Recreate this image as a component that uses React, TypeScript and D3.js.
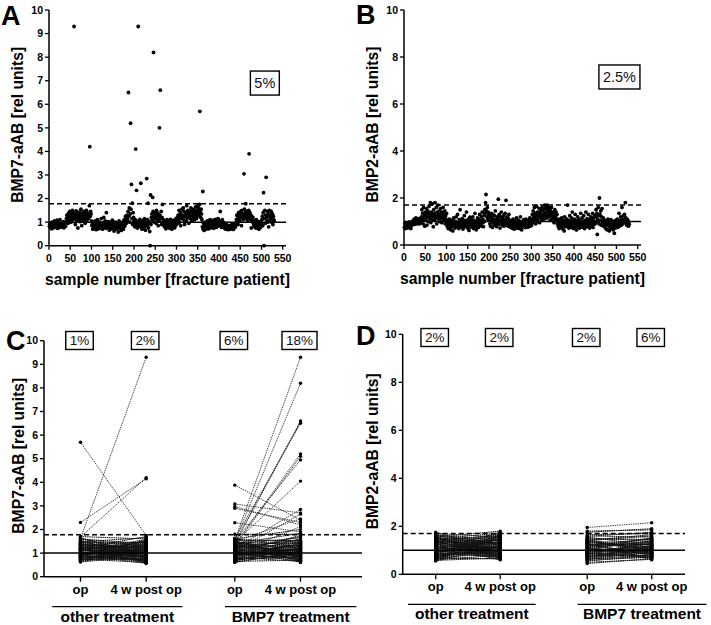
import React from "react";
import * as d3 from "d3";

const FONT = "'Liberation Sans', Arial, Helvetica, sans-serif";

// ---------- Panel A: BMP7-aAB per sample (sample number = index + 1) ----------
const bmp7Samples: number[] = [
  .82,.9,.78,.95,.85,.72,1.0,.88,.8,.93, .76,.87,1.05,.83,.9,.79,.95,.86,1.08,.74,
  .88,.81,.97,.77,.92,1.1,.84,.79,.9,.86, .95,.8,.88,1.02,.76,.91,.85,.98,.83,1.0,
  1.15,1.3,1.05,1.25,.95,1.38,1.12,1.2,1.45,1.08, 1.28,1.0,1.35,1.18,1.5,1.1,1.22,1.4,9.3,1.15,
  1.32,.9,1.25,1.48,1.05,1.18,1.36,.75,1.22,1.3, 1.12,1.42,1.02,1.28,1.55,1.15,.85,1.38,1.2,1.08,
  1.3,1.45,1.1,1.25,.95,1.35,1.18,1.5,1.05,1.28, 1.22,1.38,1.15,1.3,1.7,4.2,1.25,1.45,1.35,1.05,
  .85,.92,.7,1.0,.8,.95,.75,.88,1.05,.82, .68,.9,.78,1.1,.85,.95,.72,.87,1.0,.8,
  .93,.76,1.15,.84,.9,.7,.98,.83,1.2,.88, .78,1.05,.9,.74,1.4,.86,.95,.8,1.02,.77,
  .9,.66,.85,1.0,.8,.93,.72,.88,1.08,.82, .75,.95,.62,.9,.84,1.0,.78,.88,.7,.96,
  .83,.92,.58,.86,1.05,.8,.72,.94,.88,.65, .9,.78,1.0,.85,.7,.95,1.1,.82,.9,1.25,
  1.05,.95,1.2,1.3,1.1,1.45,6.5,1.25,1.6,1.0, 1.35,5.2,1.55,2.6,1.15,1.8,.9,1.4,1.2,1.05,
  .95,.8,1.1,4.1,.88,2.35,1.0,.75,.92,9.3, 1.05,.85,.97,1.12,.8,2.65,.9,1.0,.7,.95,
  .88,1.08,.78,.93,1.15,.83,.66,1.0,.9,2.85, .85,1.1,1.8,.75,.95,1.02,.6,0.0,2.15,.9,
  1.2,1.35,1.1,2.05,1.45,8.2,1.25,1.0,1.4,1.15, 1.3,.95,1.5,1.2,1.1,1.38,.85,1.25,1.05,5.0,
  1.3,6.6,1.15,1.45,.9,1.2,1.75,1.0,1.1,.88, .95,.8,1.05,.9,.72,1.0,.85,1.1,.78,.93,
  1.02,.87,.75,.98,.9,1.12,.8,.95,.7,1.05, .88,.97,.82,1.08,.9,.76,1.0,.86,1.15,.92,
  1.05,1.2,.95,1.3,1.1,1.5,1.0,1.25,1.4,.85, 1.35,1.15,1.55,1.2,1.28,1.6,1.1,1.45,.9,1.3,
  1.25,1.4,1.05,1.7,1.18,1.35,1.5,1.22,.95,1.4, 1.3,1.15,1.45,1.6,1.25,1.05,1.38,1.5,1.2,1.32,
  1.55,1.1,1.42,1.28,1.65,1.35,1.15,1.5,1.25,1.7, 1.4,1.6,1.3,1.75,5.7,1.45,1.2,1.55,1.35,1.1,
  .8,2.3,.7,.95,.65,.88,.75,1.0,.82,.7, .93,.85,1.05,.78,.9,.72,.98,.86,1.1,.8,
  .92,.76,1.0,.88,.82,1.08,.9,.74,.95,1.02, .85,1.12,.9,.78,1.0,.93,.82,1.15,.88,.96,
  1.05,.9,1.45,.85,1.0,.78,.95,1.1,.86,.92, .8,.98,.75,.88,.72,.83,.7,.9,.78,.74,
  .8,.68,.76,.85,.72,.79,.7,.82,.75,.9, .73,.8,.77,.69,.84,.76,.92,.78,.85,.95,
  1.1,1.3,1.0,1.25,.9,1.4,1.15,1.35,1.05,1.2, 1.45,1.3,.85,1.5,1.2,1.35,1.1,1.28,3.05,1.55,
  1.22,1.4,1.78,1.3,1.15,1.45,1.05,1.35,1.25,1.5, 3.9,1.2,1.4,1.1,1.3,.75,1.25,1.15,1.05,1.2,
  .95,.88,1.05,.8,1.0,.92,.75,1.1,.85,.9, .98,.82,1.02,.7,.93,.86,1.0,.78,.9,.95,
  1.1,1.25,.85,1.4,2.25,0.0,1.15,1.5,.95,1.3, 2.9,1.2,1.05,1.45,1.0,1.35,.8,1.25,1.5,1.1,
  1.3,1.15,1.45,1.0,1.2,1.35,.9,1.25,1.1,1.05,
];

// ---------- Panel B: BMP2-aAB per sample ----------
const bmp2Samples: number[] = [
  .75,.9,.7,.85,.95,.78,.88,.72,.92,.8, .86,.76,.98,.83,.9,.7,.95,.82,.88,1.0,
  .95,1.05,.9,1.1,.88,1.0,.93,1.15,.97,.9, 1.02,.92,1.08,.96,1.12,.9,1.0,1.05,.94,1.1,
  1.2,1.5,1.05,1.35,.9,1.6,1.15,1.25,.8,1.4, 1.1,1.3,1.55,.85,1.2,1.45,1.0,1.35,1.65,1.15,
  1.25,1.8,.95,1.4,1.1,1.75,1.3,1.2,.78,1.5, 1.35,1.05,1.8,1.25,1.15,1.6,.9,1.4,1.2,1.7,
  1.3,1.1,1.45,1.0,1.25,1.55,1.15,1.35,.95,1.4, 1.2,1.6,1.05,1.3,1.15,1.45,.9,1.25,1.1,1.35,
  .9,.8,1.0,.7,.95,.85,1.1,.75,.92,.65, .88,1.05,.78,.95,.6,.9,1.15,.82,.98,.72,
  1.0,.86,1.2,.78,.93,1.3,.84,.96,.7,1.08, .9,1.5,.8,1.02,.88,.75,1.12,.94,.68,1.0,
  .85,1.25,.92,.78,1.05,.88,1.4,.8,.97,.72, .9,1.1,.62,.95,1.18,.84,1.0,.76,1.08,.9,
  .82,1.2,.95,.7,1.05,.88,1.35,.78,.98,.65, 1.0,.86,1.15,.92,.75,1.1,.96,1.3,.84,1.05,
  .9,1.2,.8,1.4,.95,1.08,.78,1.25,1.0,1.5, 1.35,1.8,2.15,1.45,1.2,1.6,1.1,1.4,1.25,1.3,
  1.05,.9,1.2,.8,1.35,1.0,1.15,.75,1.3,.95, 1.1,.85,1.25,1.0,1.45,.9,1.08,.78,1.2,.98,
  1.15,1.95,.88,1.3,1.05,.72,1.2,.95,1.4,1.0, .85,1.12,.98,1.25,.8,1.05,.92,1.35,1.1,1.9,
  .9,1.2,1.0,.82,1.15,.95,1.3,.78,1.05,.88, .9,.75,1.05,.85,.98,.7,1.1,.82,.95,.68,
  .88,1.0,.78,.92,1.15,.84,.72,.96,.8,1.05, .86,.7,.95,1.2,.8,.9,.65,1.0,.85,.93,
  .78,1.08,.9,.82,.97,.74,1.1,.88,.8,1.0, .92,.76,1.05,.86,.95,1.15,.8,.9,1.02,.84,
  1.1,1.3,.95,1.45,1.2,1.05,1.6,1.15,1.35,.9, 1.25,1.65,1.1,1.4,1.0,1.3,1.2,1.55,.95,1.35,
  1.15,1.45,1.25,1.05,1.6,1.3,1.2,1.5,1.1,1.4, 1.7,1.25,1.55,1.35,1.65,1.15,1.7,1.45,1.3,1.6,
  1.2,1.5,1.35,1.05,1.45,1.25,1.6,1.1,1.4,1.3, 1.15,1.35,.95,1.25,1.5,1.05,1.2,1.4,1.1,1.3,
  .9,1.05,.8,.95,.7,1.1,.85,1.0,.75,.92, 1.15,.82,.98,.68,1.05,.88,.6,1.2,.9,.78,
  1.0,.85,1.1,.93,1.7,.8,1.05,.72,.96,1.25, .88,1.0,.75,1.15,.92,1.4,.83,1.02,.7,.95,
  1.1,.86,1.3,.78,.98,.64,1.05,.9,1.2,.82, .95,1.08,.72,1.0,.88,1.35,.8,.93,1.15,.76,
  1.0,.84,1.25,.9,.7,1.05,.86,1.4,.95,.8, 1.12,.78,.98,1.3,.85,1.0,.72,1.1,.9,1.2,
  .82,1.05,.95,1.35,.75,1.15,.88,1.0,1.25,.9, 1.2,1.5,1.0,1.35,.45,1.1,1.6,1.25,.9,2.0,
  1.3,1.05,1.45,.85,1.2,1.55,1.0,.95,1.15,.8, .92,.78,1.05,.85,.7,1.0,.88,.65,.95,1.1,
  .82,.9,.6,1.0,.75,.88,1.08,.7,.93,.8, .85,.65,1.0,.78,.5,.9,.72,1.05,.83,.95,
  .88,1.1,.75,1.0,.92,1.35,.8,1.05,.95,1.2, 1.0,.85,1.6,1.1,.9,1.25,1.05,.95,1.3,1.0,
  1.8,1.15,1.0,.85,1.1,.9,1.05,.8,.95,.88,
];

const sampleTicks = [0, 50, 100, 150, 200, 250, 300, 350, 400, 450, 500, 550];
const bmp7Ticks = [0, 1, 2, 3, 4, 5, 6, 7, 8, 9, 10];
const bmp2Ticks = [0, 2, 4, 6, 8, 10];
const bmp7Cutoff = 1.78;
const bmp2Cutoff = 1.7;
const groups = ["other treatment", "BMP7 treatment"];
const timepoints = ["op", "4 w post op"];

// ---------- Panel C: BMP7-aAB, paired op / 4 w post op ----------
const cOtherOp: number[] = [
  .62,.7,.75,.8,.85,.9,.95,1.0,1.05,1.1,1.15,1.2,1.25,1.3,1.35,1.4,1.45,1.5,1.55,1.6,1.65,1.7,
  .65,.72,.78,.83,.88,.92,.97,1.02,1.07,1.12,1.17,1.22,1.27,1.32,1.38,1.42,1.48,1.52,1.58,1.62,
  .68,.74,.82,.87,.93,.99,1.04,1.09,1.14,1.19,1.24,1.29,1.34,
  .76,.86,.96,1.06,1.16,1.26,1.36,1.46, .64,.8,.9,1.0,1.1,1.2,
  .71,.79,.91,1.01,1.11,1.21,1.31,1.41,1.51,.84,.94,1.13,1.33,
  5.7,2.3,1.62,1.68,
];
const cOtherPost: number[] = [
  .9,1.2,.6,1.05,.75,1.35,.85,1.5,.7,1.1, .95,1.3,.58,1.0,1.25,.8,1.45,1.15,.65,1.4,
  .88,1.6,1.02,.72,1.28,.92,1.55,.68,1.18,.82, 1.38,1.08,.62,1.22,.98,1.48,.78,1.12,1.65,.86,
  1.32,.96,1.42,.74,1.06,1.26,.56,1.16,.9,1.52, .8,1.36,1.0,.7,1.2,1.1,.84,1.3,.66,1.44,
  .94,1.24,1.04,1.14,.76,1.34,.6,1.58,1.7,
  1.0,.73,1.19,.87,1.4,.63,1.09,.97,1.29,.79,1.5,.91,1.21,
  1.75,4.15,9.3,4.2,
];
const cBmpOp: number[] = [
  .6,.65,.7,.72,.75,.78,.8,.82,.85,.88, .9,.92,.95,.98,1.0,1.02,1.05,1.08,1.1,1.12,
  1.15,1.18,1.2,1.22,1.25,1.28,1.3,1.32,1.35,1.38, 1.4,1.42,1.45,1.48,1.5,1.52,1.55,1.6,1.63,
  .68,.74,.84,.94,1.04,1.14,1.24,1.34,1.44, .62,.9,1.0,1.1,1.2,.8,1.3,
  .66,.77,.87,.97,1.07,1.17,1.27,1.37,1.47,1.57,
  1.55,1.5,1.45,1.4,1.6,1.35,1.3,1.5,1.45,3.88,3.08,2.97,2.9,2.29,1.8,1.2,1.1,1.0,1.6,1.4,1.5,
];
const cBmpPost: number[] = [
  1.1,.7,1.3,.85,1.5,.95,1.2,.65,1.4,1.0, .8,1.6,1.15,.75,1.35,.9,1.05,1.7,.62,1.25,
  .88,1.45,1.0,.72,1.55,1.1,.82,1.3,.98,1.65, .68,1.2,1.4,.92,1.08,.78,1.5,1.28,.6,1.18,
  .86,1.36,.96,1.75,.74,1.12,1.46,.84,1.02,1.22, .66,1.32,1.58,.9,1.06,
  1.24,.8,1.42,.97,1.15,.7,1.33,1.04,.88,1.52,
  9.3,8.2,6.6,6.55,6.5,5.2,5.1,4.95,4.05,2.4,2.7,2.2,2.3,1.9,1.8,2.85,2.65,2.12,2.0,1.84,2.45,
];

// ---------- Panel D: BMP2-aAB, paired op / 4 w post op ----------
const dOtherOp: number[] = [
  .55,.6,.65,.7,.75,.8,.85,.9,.95,1.0,1.05,1.1,1.15,1.2,1.25,1.3,1.35,1.4,1.45,1.5,1.55,1.6,1.65,1.7,1.75,
  .58,.63,.68,.73,.78,.83,.88,.93,.98,1.03,1.08,1.13,1.18,1.23,1.28,1.33,1.38,1.43,1.48,1.53,1.58,1.63,
  .62,.72,.82,.92,1.02,1.12,1.22,1.32,1.42,1.52, .67,.87,1.07,1.27,1.47, .77,.97,1.17,1.37,1.57, .6,1.0,1.4,
  .66,.76,.86,.96,1.06,1.16,1.26,1.36,1.46,1.56,1.66,
];
const dOtherPost: number[] = [
  1.2,.8,1.5,.65,1.0,1.35,.9,1.7,1.1,.7, 1.45,.95,1.25,.6,1.6,1.05,.85,1.4,1.15,.75,
  1.8,1.3,.92,1.55,1.0,.68,1.22,1.65,.82,1.12, 1.48,.72,1.38,.98,1.75,.88,1.18,.62,1.52,1.08,
  1.32,.78,1.62,.96,1.28,.66,1.42,1.02,1.58,.86, 1.16,.74,1.36,1.06,1.68,.94,1.26,.64,1.46,1.14,
  .84,1.72,1.04,1.34,.76,1.24,.9,1.56,1.1,.7,
  1.3,.99,1.61,.81,1.19,1.44,.71,1.09,1.53,.89,1.27,
];
const dBmpOp: number[] = [
  .45,.55,.6,.65,.7,.75,.8,.85,.9,.95, 1.0,1.05,1.1,1.15,1.2,1.25,1.3,1.35,1.4,1.45,1.5,1.55,1.6,1.75,1.95,
  .58,.68,.78,.88,.98,1.08,1.18,1.28,1.38,1.48,1.58, .62,.72,.82,.92,1.02,1.12,1.22,1.32,1.42,
  .5,.74,.86,.96,1.06,1.16,1.26,1.36,1.8,1.65,
  .64,.76,.84,.94,1.04,1.14,1.24,1.34,1.44,
];
const dBmpPost: number[] = [
  .65,.8,1.0,.7,1.2,.9,1.1,.75,1.3,.95, 1.05,1.4,.85,1.25,1.5,1.15,.6,1.35,1.6,1.0,
  1.45,1.2,1.55,1.9,2.15, .72,.88,1.02,.68,1.18,.92,1.32,.78,1.08,1.42,
  1.75,.82,.98,1.28,.74,1.12,1.38,.86,1.22,1.65, .62,1.06,.94,1.16,.84,1.48,1.26,1.0,1.85,1.7,
  1.12,.77,1.36,.93,1.52,.69,1.24,1.04,.87,
];

const cPercents = ["1%", "2%", "6%", "18%"];
const dPercents = ["2%", "2%", "2%", "6%"];

function textW(s: string, fs: number) {
  let w = 0;
  for (const ch of s) w += ch === "%" ? 0.889 : ch === "." ? 0.278 : 0.556;
  return w * fs;
}

function PctBox({ cx, cy, label, fs, h }: { cx: number; cy: number; label: string; fs: number; h: number }) {
  const w = textW(label, fs) + 8;
  return (
    <g>
      <rect x={cx - w / 2} y={cy - h / 2} width={w} height={h} fill="#fff" stroke="#000" strokeWidth={1.4} />
      <text x={cx} y={cy} dy="0.36em" textAnchor="middle" fontSize={fs} fontFamily={FONT} fill="#111">{label}</text>
    </g>
  );
}

type ScatterProps = {
  values: number[]; x0: number; x550: number; xEnd: number; y0: number; y10: number;
  yTicks: number[]; cutoff: number; letter: string; letterX: number; letterY: number;
  yTitle: string; pct: string; pctSample: number; pctValue: number;
};

function ScatterPanel(p: ScatterProps) {
  const x = d3.scaleLinear().domain([0, 550]).range([p.x0, p.x550]);
  const y = d3.scaleLinear().domain([0, 10]).range([p.y0, p.y10]);
  const xMid = (p.x0 + p.xEnd) / 2;
  const yMid = (p.y0 + p.y10) / 2 - 3;
  return (
    <g>
      <text x={p.letterX} y={p.letterY} fontSize={27} fontWeight="bold" fontFamily={FONT}>{p.letter}</text>
      <line x1={p.x0} x2={p.xEnd} y1={y(1)} y2={y(1)} stroke="#000" strokeWidth={1.5} />
      <line x1={p.x0} x2={p.xEnd} y1={y(p.cutoff)} y2={y(p.cutoff)} stroke="#000" strokeWidth={1.5} strokeDasharray="5,3" />
      {p.values.map((v, i) => (
        <circle key={i} cx={x(i + 1)} cy={y(v)} r={1.9} fill="#000" />
      ))}
      <line x1={p.x0} x2={p.x0} y1={p.y0} y2={p.y10} stroke="#000" strokeWidth={1.5} />
      {p.yTicks.map((t) => (
        <g key={t}>
          <line x1={p.x0 - 4} x2={p.x0} y1={y(t)} y2={y(t)} stroke="#000" strokeWidth={1.3} />
          <text x={p.x0 - 6} y={y(t)} dy="0.36em" textAnchor="end" fontSize={10.5} fontWeight="bold" fontFamily={FONT}>{t}</text>
        </g>
      ))}
      <line x1={p.x0} x2={p.xEnd} y1={p.y0} y2={p.y0} stroke="#000" strokeWidth={1.5} />
      {sampleTicks.map((t) => (
        <g key={t}>
          <line x1={x(t)} x2={x(t)} y1={p.y0} y2={p.y0 + 4} stroke="#000" strokeWidth={1.3} />
          <text x={x(t)} y={p.y0 + 16} textAnchor="middle" fontSize={10.5} fontWeight="bold" fontFamily={FONT}>{t}</text>
        </g>
      ))}
      <text x={xMid} y={p.y0 + 39} textAnchor="middle" fontSize={15.7} fontWeight="bold" fontFamily={FONT}>
        sample number [fracture patient]
      </text>
      <text transform={`translate(${p.x0 - 26},${yMid}) rotate(-90)`} textAnchor="middle" fontSize={15.7} fontWeight="bold" fontFamily={FONT}>
        {p.yTitle}
      </text>
      <PctBox cx={x(p.pctSample)} cy={y(p.pctValue)} label={p.pct} fs={14.5} h={24} />
    </g>
  );
}

type PairedProps = {
  x0: number; xEnd: number; y0: number; y10: number; opX: number; postX: number;
  yTicks: number[]; cutoff: number; letter: string; letterX: number; letterY: number;
  yTitle: string; titleX: number; percents: string[]; pctY: number;
  data: [number[], number[]][];
};

function PairedPanel(p: PairedProps) {
  const y = d3.scaleLinear().domain([0, 10]).range([p.y0, p.y10]);
  const slot = d3.scaleLinear().domain([0, 3.35]).range([p.opX, p.postX]);
  const groupSlots = [[0, 1], [2.35, 3.35]];
  const groupSpan = [[-0.43, 1.55], [2.2, 4.2]];
  const lineY = p.y0 + 30;
  const yMid = (p.y0 + p.y10) / 2 - 3;
  return (
    <g>
      <text x={p.letterX} y={p.letterY} fontSize={27} fontWeight="bold" fontFamily={FONT}>{p.letter}</text>
      {p.data.map(([ops, posts], gi) => {
        const [sa, sb] = groupSlots[gi];
        const n = Math.min(ops.length, posts.length);
        const items = [];
        for (let i = 0; i < n; i++) {
          const big = ops[i] > 2 || posts[i] > 2;
          items.push(
            <line key={"l" + i} x1={slot(sa)} y1={y(ops[i])} x2={slot(sb)} y2={y(posts[i])}
              stroke="#111" strokeWidth={big ? 0.8 : 1.0} strokeDasharray={big ? "1.4,0.9" : "1.6,0.6"} />
          );
        }
        for (let i = 0; i < n; i++) {
          items.push(<circle key={"a" + i} cx={slot(sa)} cy={y(ops[i])} r={1.7} fill="#000" />);
          items.push(<circle key={"b" + i} cx={slot(sb)} cy={y(posts[i])} r={1.7} fill="#000" />);
        }
        return <g key={gi}>{items}</g>;
      })}
      <line x1={p.x0} x2={p.xEnd} y1={y(1)} y2={y(1)} stroke="#000" strokeWidth={1.5} />
      <line x1={p.x0} x2={p.xEnd} y1={y(p.cutoff)} y2={y(p.cutoff)} stroke="#000" strokeWidth={1.5} strokeDasharray="5,3" />
      <line x1={p.x0} x2={p.x0} y1={p.y0} y2={p.y10} stroke="#000" strokeWidth={1.5} />
      {p.yTicks.map((t) => (
        <g key={t}>
          <line x1={p.x0 - 4} x2={p.x0} y1={y(t)} y2={y(t)} stroke="#000" strokeWidth={1.3} />
          <text x={p.x0 - 6} y={y(t)} dy="0.36em" textAnchor="end" fontSize={10.5} fontWeight="bold" fontFamily={FONT}>{t}</text>
        </g>
      ))}
      <line x1={p.x0} x2={p.xEnd} y1={p.y0} y2={p.y0} stroke="#000" strokeWidth={1.5} />
      {groupSlots.map((gs, gi) =>
        gs.map((s, ti) => (
          <g key={gi + "-" + ti}>
            <line x1={slot(s)} x2={slot(s)} y1={p.y0} y2={p.y0 + 5} stroke="#000" strokeWidth={1.3} />
            <text x={slot(s)} y={p.y0 + 17} textAnchor="middle" fontSize={13} fontWeight="bold" fontFamily={FONT}>{timepoints[ti]}</text>
          </g>
        ))
      )}
      {groupSpan.map((sp, gi) => (
        <g key={"g" + gi}>
          <line x1={slot(sp[0])} x2={slot(sp[1])} y1={lineY} y2={lineY} stroke="#000" strokeWidth={1.3} />
          <text x={(slot(sp[0]) + slot(sp[1])) / 2} y={lineY + 15} textAnchor="middle" fontSize={15.5} fontWeight="bold" fontFamily={FONT}>{groups[gi]}</text>
        </g>
      ))}
      <text transform={`translate(${p.titleX},${yMid}) rotate(-90)`} textAnchor="middle" fontSize={15.7} fontWeight="bold" fontFamily={FONT}>
        {p.yTitle}
      </text>
      {p.percents.map((s, i) => {
        const sl = [0, 1, 2.35, 3.35][i];
        return <PctBox key={"p" + i} cx={slot(sl) - 1} cy={p.pctY} label={s} fs={13.5} h={18} />;
      })}
    </g>
  );
}

export default function App() {
  return (
    <svg width={711} height={625} style={{ position: "absolute", left: 0, top: 0, background: "#fff" }}>
      <rect x={0} y={0} width={711} height={625} fill="#fff" />
      <ScatterPanel values={bmp7Samples} x0={49} x550={282.7} xEnd={286} y0={245.7} y10={10}
        yTicks={bmp7Ticks} cutoff={bmp7Cutoff} letter="A" letterX={1} letterY={25}
        yTitle="BMP7-aAB [rel units]" pct="5%" pctSample={508} pctValue={6.9} />
      <ScatterPanel values={bmp2Samples} x0={404} x550={637.7} xEnd={641} y0={245} y10={10}
        yTicks={bmp2Ticks} cutoff={bmp2Cutoff} letter="B" letterX={356} letterY={24}
        yTitle="BMP2-aAB [rel units]" pct="2.5%" pctSample={507} pctValue={7.15} />
      <PairedPanel x0={44} xEnd={362} y0={576.7} y10={340.7} opX={80.5} postX={300.5}
        yTicks={bmp7Ticks} cutoff={bmp7Cutoff} letter="C" letterX={6} letterY={350}
        yTitle="BMP7-aAB [rel units]" titleX={23.5} percents={cPercents} pctY={340.5}
        data={[[cOtherOp, cOtherPost], [cBmpOp, cBmpPost]]} />
      <PairedPanel x0={402.7} xEnd={685} y0={574.3} y10={334.3} opX={435.7} postX={651.7}
        yTicks={bmp2Ticks} cutoff={bmp2Cutoff} letter="D" letterX={356} letterY={345}
        yTitle="BMP2-aAB [rel units]" titleX={377.5} percents={dPercents} pctY={337.5}
        data={[[dOtherOp, dOtherPost], [dBmpOp, dBmpPost]]} />
    </svg>
  );
}
